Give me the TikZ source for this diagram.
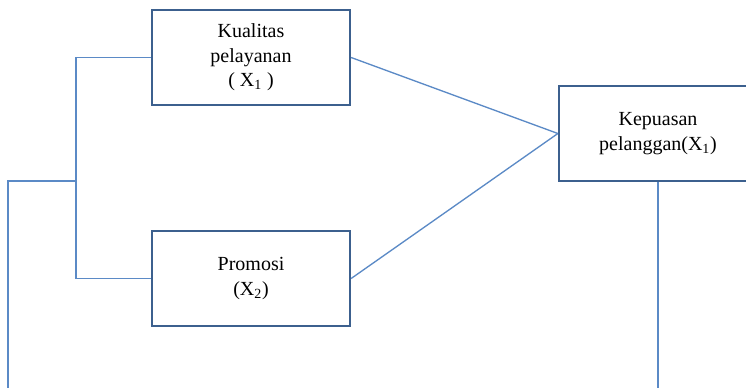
\documentclass[tikz,border=0pt]{standalone}
\usepackage{fontspec}
\setmainfont{Liberation Serif}
\usepackage{xcolor}
\definecolor{linkblue}{RGB}{91,138,198}
\definecolor{boxblue}{RGB}{60,96,142}

\begin{document}
\begin{tikzpicture}[x=0.75pt,y=-0.75pt]
\tikzset{VarBox/.style={draw=boxblue, line width=1.7pt, rectangle, align=center,
  minimum width=198*0.75pt, minimum height=95*0.75pt, inner sep=0pt,
  font=\fontsize{15}{18.5}\selectfont}}
\tikzset{LinkStyle/.style={draw=linkblue, line width=1pt}}
\useasboundingbox (0,0) rectangle (746,387);
\node[VarBox] (kual) at (251,57.5) {Kualitas\\pelayanan\\( X\textsubscript{1} )};
\node[VarBox] (promo) at (251,278.5) {Promosi\\(X\textsubscript{2})};
\node[VarBox] (puas) at (658,133.5) {Kepuasan\\pelanggan(X\textsubscript{1})};
\coordinate (joint) at (76,181);
\coordinate (leftend) at (8,390);
\draw[LinkStyle] (kual.east) -- (puas.west);
\draw[LinkStyle] (promo.east) -- (puas.west);
\draw[LinkStyle] (kual.west) -| (joint) |- (promo.west);
\draw[LinkStyle] (joint) -| (leftend);
\draw[LinkStyle] (puas.south) -- (puas.south |- leftend);
\end{tikzpicture}
\end{document}
